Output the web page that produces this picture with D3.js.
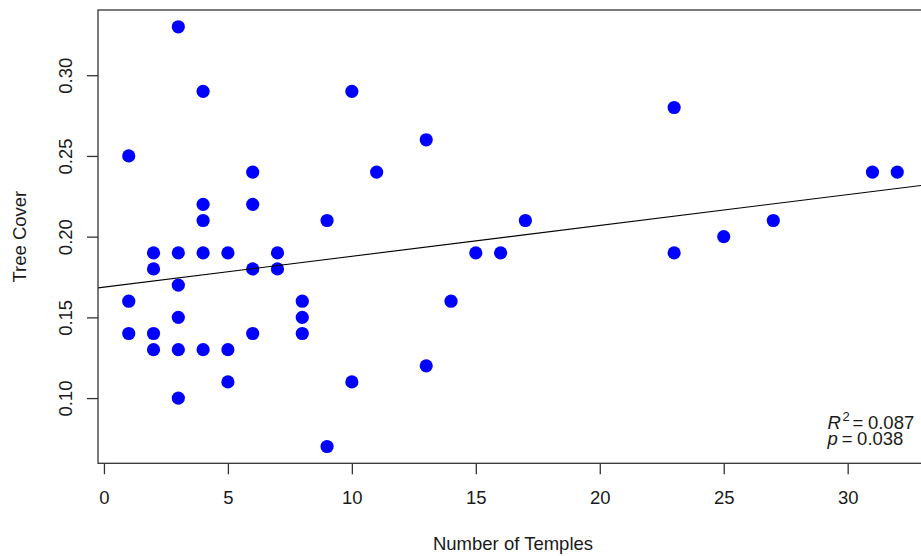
<!DOCTYPE html>
<html>
<head>
<meta charset="utf-8">
<script src="https://cdn.jsdelivr.net/npm/d3@7"></script>
<style>
  body { margin: 0; background: #fff; }
  svg text { font-family: "Liberation Sans", Arial, sans-serif; fill: #1a1a1a; }
</style>
</head>
<body>
<svg id="chart" width="921" height="556"></svg>
<script>
// number of temples per site and its tree cover
var temples = [1, 1, 1,
    2, 2, 2, 2,
    3, 3, 3, 3, 3, 3,
    4, 4, 4, 4, 4,
    5, 5, 5,
    6, 6, 6, 6,
    7, 7,
    8, 8, 8,
    9, 9,
    10, 10,
    11,
    13, 13,
    14, 15, 16, 17,
    23, 23,
    25, 27, 31, 32]
var treeCover = [0.25, 0.16, 0.14,
    0.19, 0.18, 0.14, 0.13,
    0.33, 0.19, 0.17, 0.15, 0.13, 0.10,
    0.29, 0.22, 0.21, 0.19, 0.13,
    0.19, 0.13, 0.11,
    0.24, 0.22, 0.18, 0.14,
    0.19, 0.18,
    0.16, 0.15, 0.14,
    0.21, 0.07,
    0.29, 0.11,
    0.24,
    0.26, 0.12,
    0.16, 0.19, 0.19, 0.21,
    0.28, 0.19,
    0.20, 0.21, 0.24, 0.24]
var xTicks = [0, 5, 10, 15, 20, 25, 30]
var yTicks = [0.10, 0.15, 0.20, 0.25, 0.30]
var statLines = [
    {sym: "R", sup: "2", val: "0.087"},
    {sym: "p", sup: "", val: "0.038"}
]

!(function(){
    "use strict"

    var svg = d3.select("#chart")
    var left = 98, right = 928, top = 10, bottom = 463.3

    // R style axis range: data extent plus 4% on each side
    function padded(arr) {
        var ext = d3.extent(arr), d = (ext[1] - ext[0]) * 0.04
        return [ext[0] - d, ext[1] + d]
    }

    var x = d3.scaleLinear().domain(padded(temples)).range([left, right])
    var y = d3.scaleLinear().domain(padded(treeCover)).range([bottom, top])

    // least squares fit, like abline(lm(...))
    var mx = d3.mean(temples), my = d3.mean(treeCover)
    var sxy = d3.sum(temples, function(v, i) { return (v - mx) * (treeCover[i] - my) })
    var sxx = d3.sum(temples, function(v) { return (v - mx) * (v - mx) })
    var slope = sxy / sxx
    var icept = my - slope * mx

    svg.append("clipPath").attr("id", "plot-clip")
        .append("rect")
        .attr("x", left).attr("y", top)
        .attr("width", right - left).attr("height", bottom - top)

    var plot = svg.append("g").attr("clip-path", "url(#plot-clip)")

    plot.selectAll("circle")
        .data(temples)
        .enter()
        .append("circle")
        .attr("cx", function(d) { return x(d) })
        .attr("cy", function(d, i) { return y(treeCover[i]) })
        .attr("r", 6.6)
        .attr("fill", "#0000ff")

    var xd = x.domain()
    plot.append("line")
        .attr("x1", x(xd[0])).attr("y1", y(icept + slope * xd[0]))
        .attr("x2", x(xd[1])).attr("y2", y(icept + slope * xd[1]))
        .attr("stroke", "#000")
        .attr("stroke-width", 1.1)

    // box around the plot
    svg.append("rect")
        .attr("x", left).attr("y", top)
        .attr("width", right - left).attr("height", bottom - top)
        .attr("fill", "none")
        .attr("stroke", "#333")
        .attr("stroke-width", 1.3)

    var xAxis = d3.axisBottom(x).tickValues(xTicks).tickSize(11).tickPadding(17)
        .tickFormat(d3.format("d"))
    var gx = svg.append("g").attr("transform", "translate(0," + bottom + ")").call(xAxis)
    gx.select(".domain").remove()
    gx.selectAll("line").attr("stroke", "#333").attr("stroke-width", 1.3)
    gx.selectAll("text")
        .attr("font-size", "18.5px")
        .attr("font-family", "Liberation Sans, Arial, sans-serif")
        .attr("fill", "#1a1a1a")

    var yAxis = d3.axisLeft(y).tickValues(yTicks).tickSize(11)
        .tickFormat(d3.format(".2f"))
    var gy = svg.append("g").attr("transform", "translate(" + left + ",0)").call(yAxis)
    gy.select(".domain").remove()
    gy.selectAll("line").attr("stroke", "#333").attr("stroke-width", 1.3)
    gy.selectAll("text")
        .attr("x", null).attr("dy", null)
        .attr("text-anchor", "middle")
        .attr("transform", "translate(-26.5,0) rotate(-90)")
        .attr("font-size", "18.5px")
        .attr("font-family", "Liberation Sans, Arial, sans-serif")
        .attr("fill", "#1a1a1a")

    svg.append("text")
        .attr("x", (left + right) / 2).attr("y", 550)
        .attr("text-anchor", "middle")
        .attr("font-size", "18.5px")
        .text("Number of Temples")

    svg.append("text")
        .attr("transform", "translate(26," + (top + bottom) / 2 + ") rotate(-90)")
        .attr("text-anchor", "middle")
        .attr("font-size", "18.5px")
        .text("Tree Cover")

    // R^2 and p in the bottom right corner
    var stats = svg.append("g").attr("font-size", "18.5px")
    statLines.forEach(function(s, i) {
        var t = stats.append("text").attr("x", 827.5).attr("y", 429 + i * 16)
        t.append("tspan").attr("font-style", "italic").text(s.sym)
        if (s.sup) {
            t.append("tspan").attr("font-size", "13px").attr("dy", -8).attr("dx", 1.5).text(s.sup)
            t.append("tspan").attr("dy", 8).attr("dx", 3).text("=")
        } else {
            t.append("tspan").attr("dx", 4).text("=")
        }
        t.append("tspan").attr("dx", 4.5).text(s.val)
    })
}());
</script>
</body>
</html>
